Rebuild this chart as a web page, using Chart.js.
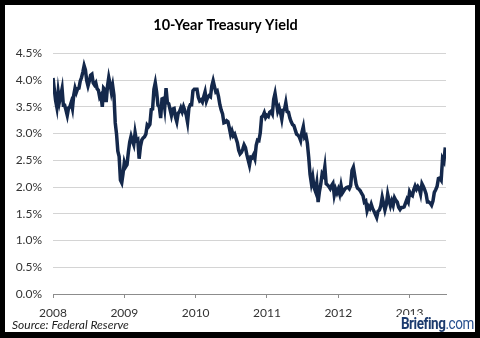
<!DOCTYPE html>
<html>
<head>
<meta charset="utf-8">
<script src="https://cdn.jsdelivr.net/npm/chart.js@4"></script>
<style>
  html, body { margin: 0; padding: 0; background: #000; }
  body { width: 480px; height: 338px; position: relative; overflow: hidden; }
  #panel { position: absolute; left: 5px; top: 5px; width: 470px; height: 327px; background: #fff; }
  #panel canvas { position: absolute; left: 0; top: 0; }
  .source { position: absolute; left: 7px; top: 312px; font: italic 12px Lato, "Open Sans", sans-serif; color: #222; }
  .brand { position: absolute; right: 1px; top: 310px; padding: 0 0 0 3px; background: #fff;
           font: bold 16px "Liberation Sans Narrow", "Roboto", sans-serif; color: #1c3b6e;
           letter-spacing: -0.5px; transform: scaleX(0.84); transform-origin: right center; line-height: 17px; }
  .brand span { font-weight: normal; color: #264f8f; }
</style>
</head>
<body>
<div id="panel">
  <canvas id="yieldChart" width="470" height="327"></canvas>
  <div class="source">Source: Federal Reserve</div>
  <div class="brand">Briefing<span>.com</span></div>
</div>
<script>
// weekly 10-year treasury yield, percent, one list per calendar year
const years = [2008, 2009, 2010, 2011, 2012, 2013];

const y2008 = [
  4.04, 3.83, 3.62, 3.49, 3.78,
  3.60, 3.72, 3.84, 3.53,
  3.53, 3.44, 3.34, 3.48, 3.50,
  3.58, 3.47, 3.72, 3.85,
  3.77, 3.84, 3.85, 3.98,
  4.05, 4.15, 4.27, 4.19, 3.99,
  3.89, 3.98, 4.09, 4.11, 3.95,
  3.91, 3.95, 3.84, 3.81,
  3.68, 3.72, 3.50, 3.85, 3.82,
  3.59, 3.88, 4.05, 3.93, 3.78,
  3.90, 3.72, 3.20, 2.99,
  2.67, 2.57, 2.13, 2.08, 2.25
];
const y2009 = [
  2.46, 2.38, 2.42, 2.65, 2.84,
  2.95, 2.86, 2.79, 3.02,
  2.87, 2.89, 2.53, 2.76,
  2.88, 2.92, 2.94, 2.99,
  3.16, 3.13, 3.17, 3.45, 3.46,
  3.83, 3.95, 3.78, 3.53,
  3.50, 3.29, 3.65, 3.66, 3.48,
  3.85, 3.58, 3.56, 3.45,
  3.34, 3.46, 3.47, 3.31,
  3.22, 3.38, 3.41, 3.48, 3.41,
  3.50, 3.43, 3.35, 3.21,
  3.48, 3.54, 3.54, 3.80, 3.83
];
const y2010 = [
  3.83, 3.83, 3.68, 3.61, 3.63,
  3.59, 3.69, 3.78, 3.61,
  3.68, 3.71, 3.69, 3.89,
  3.99, 3.88, 3.78, 3.80, 3.69,
  3.54, 3.44, 3.37, 3.20,
  3.21, 3.24, 3.22, 3.11,
  2.98, 3.05, 2.96, 2.99, 2.91,
  2.83, 2.69, 2.62, 2.65,
  2.71, 2.79, 2.74, 2.61,
  2.51, 2.41, 2.56, 2.55, 2.60,
  2.53, 2.78, 2.88, 2.87,
  3.01, 3.31, 3.33, 3.39, 3.30
];
const y2011 = [
  3.34, 3.32, 3.40, 3.42, 3.37,
  3.64, 3.75, 3.58, 3.42,
  3.49, 3.40, 3.27, 3.44,
  3.45, 3.58, 3.41, 3.40, 3.29,
  3.22, 3.17, 3.15, 3.07,
  2.99, 2.97, 2.94, 2.87,
  3.03, 3.13, 2.93, 2.96, 2.82,
  2.56, 2.24, 2.07, 2.19,
  1.99, 1.92, 2.07, 1.72, 1.92,
  2.06, 2.25, 2.21, 2.38,
  2.06, 2.04, 2.01, 1.97,
  2.03, 2.07, 1.85, 1.96, 1.89
];
const y2012 = [
  1.96, 1.87, 2.03, 1.89,
  1.93, 1.97, 1.99, 2.00, 1.97,
  2.03, 2.31, 2.37, 2.21,
  2.05, 1.98, 1.96, 1.93,
  1.88, 1.84, 1.72, 1.74, 1.56,
  1.64, 1.60, 1.68, 1.60,
  1.55, 1.49, 1.43, 1.55,
  1.57, 1.65, 1.81, 1.69, 1.57,
  1.67, 1.87, 1.75, 1.65,
  1.74, 1.66, 1.80, 1.75,
  1.72, 1.62, 1.58, 1.62, 1.62,
  1.63, 1.70, 1.77, 1.72
];
// 2013 runs through the first week of July
const y2013 = [
  1.91, 1.86, 1.84, 1.95,
  2.02, 1.96, 2.01, 1.97, 1.87,
  2.06, 2.01, 1.95, 1.87,
  1.72, 1.72, 1.70, 1.66,
  1.74, 1.90, 1.95, 2.01, 2.16,
  2.17, 2.13, 2.53, 2.48,
  2.74
];

const yTicks = [0, 0.5, 1, 1.5, 2, 2.5, 3, 3.5, 4, 4.5];

const perYear = [y2008, y2009, y2010, y2011, y2012, y2013];
const points = [];
perYear.forEach((vals, k) => {
  const n = k === perYear.length - 1 ? 52 : vals.length; // partial year keeps weekly spacing
  vals.forEach((v, i) => points.push({ x: years[k] + i / n, y: v }));
});

const font = 'Lato, "Open Sans", sans-serif';

new Chart(document.getElementById('yieldChart'), {
  type: 'line',
  data: {
    datasets: [{
      label: '10-Year Treasury Yield',
      data: points,
      borderColor: '#14284b',
      borderWidth: 3.5,
      pointRadius: 0,
      tension: 0,
      fill: false
    }]
  },
  options: {
    responsive: false,
    animation: false,
    layout: { padding: { left: 0, right: 29, top: 0, bottom: 0 } },
    plugins: {
      legend: { display: false },
      tooltip: { enabled: false },
      title: {
        display: true,
        text: '10-Year Treasury Yield',
        color: '#000',
        font: { family: font, size: 14.5, weight: 'bold' },
        padding: { top: 12, bottom: 19 }
      }
    },
    scales: {
      x: {
        type: 'linear',
        min: years[0],
        max: 2013.51,
        afterBuildTicks: s => { s.ticks = years.map(v => ({ value: v })); },
        afterFit: s => { s.height = 38; },
        ticks: {
          callback: v => String(v),
          color: '#333',
          font: { family: font, size: 12 },
          padding: 8,
          maxRotation: 0
        },
        grid: { drawOnChartArea: false, color: '#8c8c8c', tickLength: 4 },
        border: { color: '#8c8c8c' }
      },
      y: {
        min: 0,
        max: 4.5,
        afterBuildTicks: s => { s.ticks = yTicks.map(v => ({ value: v })); },
        afterFit: s => { s.width = 48; },
        ticks: {
          callback: v => v.toFixed(1) + '%',
          color: '#333',
          font: { family: font, size: 12 },
          padding: 11
        },
        grid: { color: '#d4d4d4', drawTicks: false },
        border: { display: false }
      }
    }
  }
});
</script>
</body>
</html>
